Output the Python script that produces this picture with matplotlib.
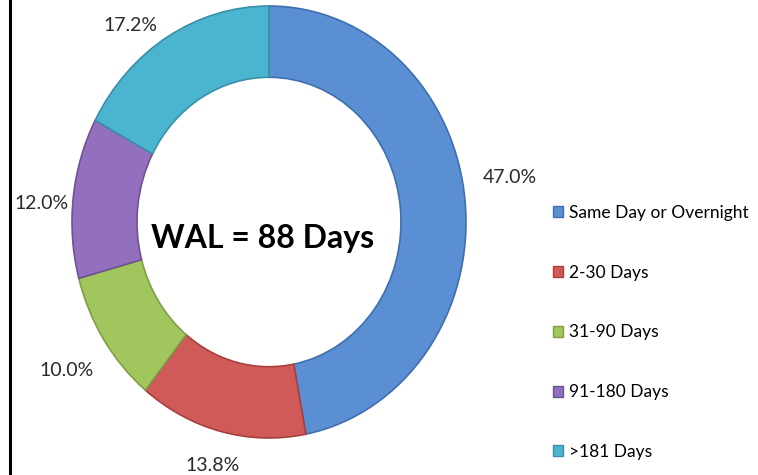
import matplotlib.pyplot as plt
from matplotlib.patches import Patch

categories = ['Same Day or Overnight', '2-30 Days', '31-90 Days', '91-180 Days', '>181 Days']
shares = [47.0, 13.8, 10.0, 12.0, 17.2]
colors = ['#5a8fd4', '#d05a57', '#a2c65e', '#9370bd', '#4bb5d0']
edges = ['#3f6fae', '#a8403d', '#7f9e45', '#6f5293', '#3890a8']
center_text = 'WAL = 88 Days'

# pixel nudges for the percentage labels (x right, y down)
label_nudge = [(9, -21), (0, -4), (-8, 9), (4, 10), (-19, 22)]

plt.rcParams['font.family'] = ['Lato', 'DejaVu Sans']

fig = plt.figure(figsize=(7.58, 4.75), dpi=100)
W, H = 758, 475
# donut is a bit stretched vertically in the original
ax = fig.add_axes([72 / W, 37 / H, 394 / W, 432 / H])

wedges, texts, autotexts = ax.pie(
    shares, colors=colors, startangle=90, counterclock=False,
    autopct='%.1f%%', pctdistance=1.18,
    wedgeprops=dict(width=0.33, linewidth=1.2),
    textprops=dict(fontsize=14, color='#2a2a2a'))
for w, ec in zip(wedges, edges):
    w.set_edgecolor(ec)
for t, (dx, dy) in zip(autotexts, label_nudge):
    x, y = t.get_position()
    t.set_position((x + dx / 197, y - dy / 216))
ax.set_aspect('auto')
ax.set_xlim(-1, 1)
ax.set_ylim(-1, 1)
ax.axis('off')

ax.text(-0.035, -0.075, center_text, ha='center', va='center',
        fontsize=23, fontweight='bold', color='black')

# black frame line on the left side
fig.add_artist(plt.Line2D([10 / W, 10 / W], [0, 1], color='black', lw=2.2))

handles = [Patch(facecolor=c, edgecolor=e) for c, e in zip(colors, edges)]
fig.legend(handles, categories, loc='upper left', bbox_to_anchor=(553 / W, 1 - 205 / H),
           frameon=False, fontsize=12.5, labelspacing=2.52, handlelength=0.6,
           handleheight=0.6, handletextpad=0.3, borderaxespad=0, borderpad=0)

fig.savefig('out.png', dpi=100, facecolor='white')
